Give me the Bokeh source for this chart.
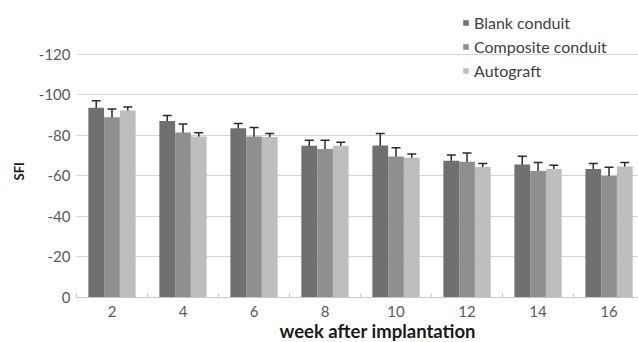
from bokeh.plotting import figure
from bokeh.models import (Range1d, FixedTicker, Whisker, TeeHead, ColumnDataSource,
                          Legend, LegendItem, Title)
from bokeh.embed import file_html
from bokeh.resources import INLINE

weeks = ["2", "4", "6", "8", "10", "12", "14", "16"]
blank = [-93.7, -87.2, -83.6, -74.9, -75.1, -67.5, -65.7, -63.4]
blank_err = [3.5, 2.65, 2.3, 2.75, 5.9, 2.9, 4.0, 2.8]
composite = [-89.0, -81.5, -79.5, -73.3, -69.6, -67.0, -62.4, -60.1]
composite_err = [4.1, 4.2, 4.45, 4.4, 4.35, 4.3, 4.2, 4.2]
autograft = [-92.3, -79.5, -79.2, -74.9, -69.0, -64.4, -63.4, -64.7]
autograft_err = [1.75, 1.8, 1.8, 1.7, 1.9, 1.8, 1.9, 2.0]
series_names = ["Blank conduit", "Composite conduit", "Autograft"]
y_ticks = [0, -20, -40, -60, -80, -100, -120]

colors = ["#707070", "#8f8f8f", "#bebebe"]
FONT = "Lato"

p = figure(width=638, height=342, output_backend="svg", toolbar_location=None,
           x_range=Range1d(-0.5, 7.415), y_range=Range1d(0, -141.7),
           min_border_left=76, min_border_right=0, min_border_top=10, min_border_bottom=45)
p.outline_line_color = None
p.background_fill_color = "white"

n = len(weeks)
bw = 0.222
offsets = [-bw, 0.0, bw]
renderers = []
for vals, errs, col, off in zip([blank, composite, autograft],
                                [blank_err, composite_err, autograft_err], colors, offsets):
    xs = [i + off for i in range(n)]
    src = ColumnDataSource(dict(x=xs, top=vals,
                                upper=[v - e for v, e in zip(vals, errs)],
                                lower=[v + e for v, e in zip(vals, errs)]))
    r = p.vbar(x="x", top="top", bottom=0, width=bw, source=src,
               fill_color=col, line_color=None)
    renderers.append(r)
    w = Whisker(source=src, base="x", upper="upper", lower="lower",
                line_color="#2b2b2b", line_width=1.5,
                upper_head=TeeHead(size=9, line_color="#2b2b2b", line_width=1.5),
                lower_head=TeeHead(size=9, line_color="#2b2b2b", line_width=1.5))
    p.add_layout(w)

# x axis
p.xaxis.ticker = FixedTicker(ticks=list(range(n)),
                             minor_ticks=[i - 0.5 for i in range(n + 1)])
p.xaxis.major_label_overrides = {i: weeks[i] for i in range(n)}
p.xaxis.major_tick_line_color = None
p.xaxis.major_tick_out = 0
p.xaxis.major_tick_in = 0
p.xaxis.minor_tick_line_color = "#c8c8c8"
p.xaxis.minor_tick_in = 4
p.xaxis.minor_tick_out = 0
p.xaxis.axis_line_color = "#c8c8c8"
p.xaxis.major_label_standoff = 8
p.xaxis.major_label_text_font = FONT
p.xaxis.major_label_text_font_size = "15px"
p.xaxis.major_label_text_color = "#595959"
p.xgrid.grid_line_color = None

# y axis
p.yaxis.ticker = FixedTicker(ticks=y_ticks)
p.yaxis.major_label_overrides = {t: str(t) for t in y_ticks}
p.yaxis.axis_line_color = None
p.yaxis.major_tick_line_color = None
p.yaxis.minor_tick_line_color = None
p.yaxis.major_tick_out = 0
p.yaxis.major_tick_in = 0
p.yaxis.major_label_standoff = 6
p.yaxis.major_label_text_font = FONT
p.yaxis.major_label_text_font_size = "15px"
p.yaxis.major_label_text_color = "#595959"
p.ygrid.ticker = FixedTicker(ticks=y_ticks)
p.ygrid.grid_line_color = "#d4d4d4"
p.ygrid.grid_line_width = 1

# axis titles
p.add_layout(Title(text="week after implantation", align="left", offset=203, standoff=-3,
                   vertical_align="bottom",
                   text_font=FONT, text_font_style="bold", text_font_size="18.5px",
                   text_color="#1a1a1a"), "below")
p.add_layout(Title(text="SFI", align="left", offset=117, standoff=14, vertical_align="top",
                   text_font=FONT, text_font_style="bold", text_font_size="13px",
                   text_color="#1a1a1a"), "left")

legend = Legend(items=[LegendItem(label=nm, renderers=[r]) for nm, r in zip(series_names, renderers)],
                location=(386, 217), orientation="vertical",
                label_text_font=FONT, label_text_font_size="16px", label_text_color="#404040",
                glyph_width=7, glyph_height=7, label_standoff=5, spacing=4, label_height=20,
                padding=0, margin=0, border_line_color=None, background_fill_alpha=0)
p.add_layout(legend)

open("out.html", "w").write(file_html(p, INLINE))
